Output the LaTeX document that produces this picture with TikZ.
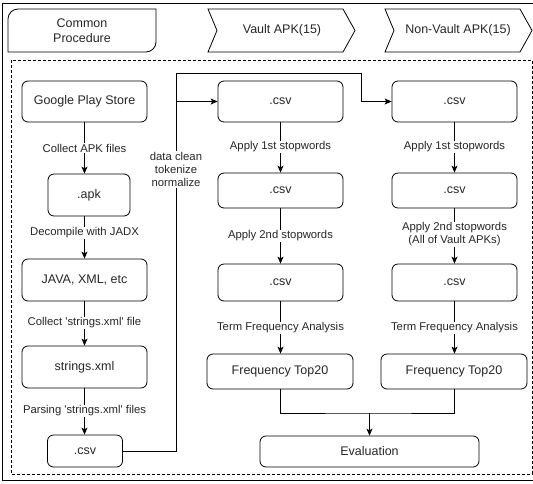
\documentclass[tikz,border=0pt]{standalone}
\usepackage{fontspec}
\setmainfont{Liberation Sans}[Ligatures=TeXOff]
\usetikzlibrary{arrows.meta}
\begin{document}
\begin{tikzpicture}[x=1pt,y=-1pt,
  line width=0.8pt,
  box/.style={draw, rounded corners=6pt, align=center, inner sep=0pt,
    font=\fontsize{12.5}{14}\selectfont, text=black!85},
  lbl/.style={fill=white, inner sep=1pt, align=center,
    font=\fontsize{11.3}{13}\selectfont, text=black!85},
  hdr/.style={align=center, font=\fontsize{12.5}{15}\selectfont, text=black!85},
  arr/.style={-{Stealth[length=7pt,width=6pt,inset=1.8pt]}},
  frame/.style={line width=0.75pt, dash pattern=on 3pt off 2pt}]
\useasboundingbox (0,0) rectangle (533,483);

% outer frame and dashed working area
\draw[line width=0.9pt] (2,3) rectangle (540,480);
\draw[frame] (11,60) rectangle (532,474);

% header: common procedure tab
\draw (8,52) -- (8,19) arc[start angle=180, end angle=270, radius=10]
  -- (156,9) -- (156,42) arc[start angle=0, end angle=90, radius=10] -- cycle;
\node[hdr] (hcommon) at (82,30.5) {Common\\Procedure};

% header: chevrons
\draw (208,9) -- (343,9) -- (355,30.5) -- (343,52) -- (208,52) -- (217,30.5) -- cycle;
\node[hdr] (hvault) at (282,30.5) {Vault APK(15)};
\draw (385,9) -- (520,9) -- (532,30.5) -- (520,52) -- (385,52) -- (394,30.5) -- cycle;
\node[hdr] (hnonvault) at (458,30.5) {Non-Vault APK(15)};

% common procedure column
\node[box, minimum width=125pt, minimum height=41pt] (gps) at (84.5,101.5) {Google Play Store};
\node[box, minimum width=82pt, minimum height=42pt] (apk) at (89,195) {.apk};
\node[box, minimum width=125pt, minimum height=42pt] (java) at (84.5,280) {JAVA, XML, etc};
\node[box, minimum width=125pt, minimum height=42pt] (strx) at (84.5,367) {strings.xml};
\node[box, minimum width=75pt, minimum height=32pt] (lcsv) at (85,451) {.csv};

\draw[arr] (gps.south) -- (gps.south |- apk.north);
\draw[arr] (apk.south -| gps.south) -- (java.north);
\draw[arr] (java.south) -- (strx.north);
\draw[arr] (strx.south) -- (strx.south |- lcsv.north);
\node[lbl] (l1) at (84.5,148) {Collect APK files};
\node[lbl] (l2) at (84.5,233) {Decompile with JADX};
\node[lbl] (l3) at (84.5,323) {Collect 'strings.xml' file};
\node[lbl] (l4) at (84.5,411) {Parsing 'strings.xml' files};

% vault column
\node[box, minimum width=125pt, minimum height=41pt] (v1) at (280.5,101.5) {.csv};
\node[box, minimum width=125pt, minimum height=35pt] (v2) at (280.5,190.5) {.csv};
\node[box, minimum width=125pt, minimum height=37pt] (v3) at (280.5,282.5) {.csv};
\node[box, minimum width=146pt, minimum height=35pt] (vf) at (280,371.5) {Frequency Top20};
\draw[arr] (v1.south) -- (v2.north);
\draw[arr] (v2.south) -- (v3.north);
\draw[arr] (v3.south) -- (v3.south |- vf.north);
\node[lbl] (lv1) at (280.5,147) {Apply 1st stopwords};
\node[lbl] (lv2) at (280.5,236) {Apply 2nd stopwords};
\node[lbl] (lv3) at (280.5,328) {Term Frequency Analysis};

% non-vault column
\node[box, minimum width=125pt, minimum height=41pt] (n1) at (454.5,101.5) {.csv};
\node[box, minimum width=125pt, minimum height=35pt] (n2) at (454.5,190.5) {.csv};
\node[box, minimum width=125pt, minimum height=37pt] (n3) at (454.5,282.5) {.csv};
\node[box, minimum width=146pt, minimum height=35pt] (nf) at (454,371.5) {Frequency Top20};
\draw[arr] (n1.south) -- (n2.north);
\draw[arr] (n2.south) -- (n3.north);
\draw[arr] (n3.south) -- (n3.south |- nf.north);
\node[lbl] (ln1) at (454.5,147) {Apply 1st stopwords};
\node[lbl] (ln2) at (454.5,234.5) {Apply 2nd stopwords\\(All of Vault APKs)};
\node[lbl] (ln3) at (454.5,328) {Term Frequency Analysis};

% evaluation
\node[box, minimum width=219pt, minimum height=31pt] (eval) at (369.5,451.5) {Evaluation};
\coordinate (mrg) at (369.5,413);
\draw (vf.south) |- (mrg) -| (nf.south);
\draw[arr] (mrg) -- (eval.north);

% preprocessing bus feeding both columns
\coordinate (busb) at (176,451);
\coordinate (bust) at (176,73);
\coordinate (turn) at (361,73);
\draw[arr] (lcsv.east) -- (busb) -- (bust) -- (turn) |- (n1.west);
\draw[arr] (bust |- v1.west) -- (v1.west);
\node[lbl] (lclean) at (176,169.5) {data clean\\tokenize\\normalize};
\end{tikzpicture}
\end{document}
